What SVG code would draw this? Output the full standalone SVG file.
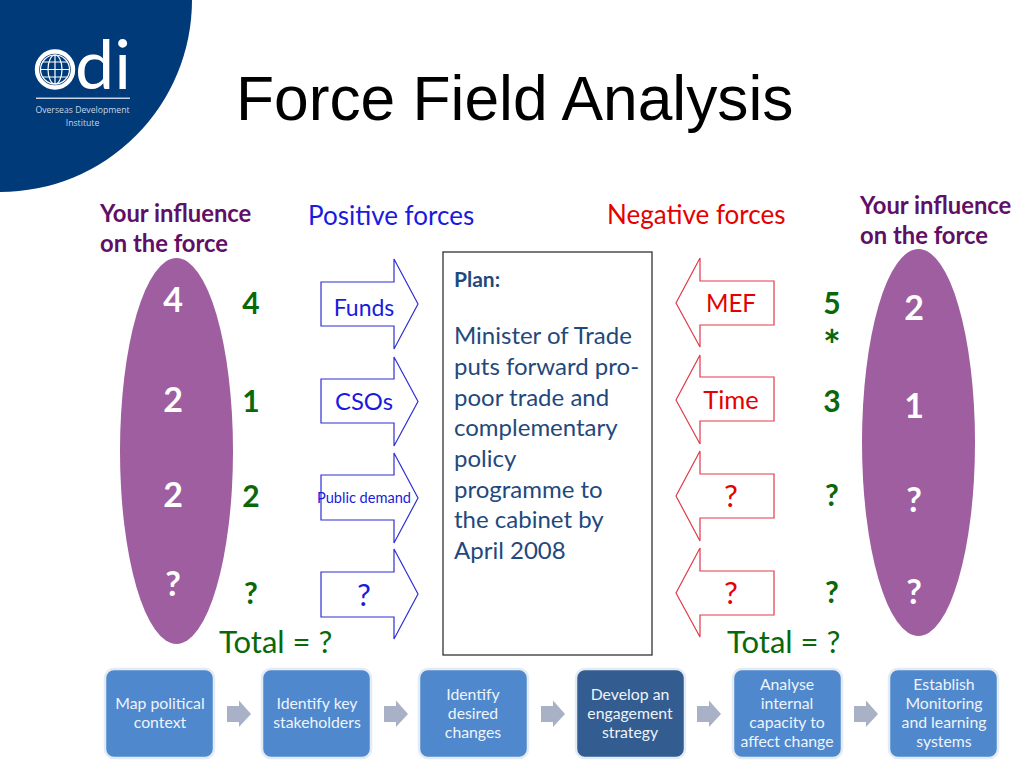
<svg xmlns="http://www.w3.org/2000/svg" width="1024" height="768" viewBox="0 0 1024 768">
<style>
text{font-family:"Lato","Carlito","Open Sans",sans-serif}
.title{font-family:"Liberation Sans",Arial,sans-serif;font-size:62.300px;fill:#000}
.inf{font-size:23.800px;font-weight:700;fill:#5f0f66}
.pos{fill:#1a1ae0}
.neg{fill:#e60000}
.hd{font-size:26px}
.bl{fill:#fff;stroke:#2f2fd4;stroke-width:1.200}
.rd{fill:#fff;stroke:#e23a4a;stroke-width:1.200}
.lb{font-size:23px;text-anchor:middle}
.sc{font-size:30px;font-weight:700;fill:#0a680a;text-anchor:middle}
.wh{font-size:34px;font-weight:700;fill:#fff;text-anchor:middle}
.el{fill:#9e5e9f}
.tot{font-size:31px;fill:#0a680a}
.pl{font-size:24px;fill:#1f497d}
.box{fill:#4f88cd;stroke:#e3ecf5;stroke-width:2.500}
.boxd{fill:#335c90;stroke:#e3ecf5;stroke-width:2.500}
.bt{font-size:15.800px;fill:#eef4fb;text-anchor:middle}
.ar{fill:#a9b1c6}
</style>
<g id="logo">
<path d="M0 0H192A192 192 0 0 1 0 192Z" fill="#003a78"/>
<circle cx="55" cy="69.500" r="18" fill="none" stroke="#fff" stroke-width="4.400"/>
<g fill="none" stroke="#fff" stroke-width="1.200">
<circle cx="55" cy="69.500" r="14.500"/>
<ellipse cx="55" cy="69.500" rx="7" ry="14.500"/>
<path d="M55 55V84M41 69.500H69M43 62H67M43 77H67"/>
</g>
<text x="75" y="88.500" font-size="68" font-weight="400" fill="#fff" style="font-family:'Lato','Open Sans',sans-serif" textLength="56" lengthAdjust="spacingAndGlyphs">di</text>
<rect x="36" y="97.500" width="94" height="1.500" fill="#c8d4e6"/>
<text x="82.500" y="113" font-size="8.700" fill="#c8d4e6" text-anchor="middle" style="font-family:'Open Sans',sans-serif">Overseas Development</text>
<text x="82.500" y="125.500" font-size="8.700" fill="#c8d4e6" text-anchor="middle" style="font-family:'Open Sans',sans-serif">Institute</text>
</g>
<text class="title" x="236" y="120">Force Field Analysis</text>
<g id="headers">
<text class="inf" x="100" y="222">Your influence</text>
<text class="inf" x="100" y="252">on the force</text>
<text class="inf" x="860" y="214">Your influence</text>
<text class="inf" x="860" y="244">on the force</text>
<text class="hd pos" x="308" y="225">Positive forces</text>
<text class="hd neg" x="607" y="224">Negative forces</text>
</g>
<g id="influence-left">
<ellipse class="el" cx="176.500" cy="451" rx="56.500" ry="193"/>
<text class="wh" x="173" y="312">4</text>
<text class="wh" x="173" y="412">2</text>
<text class="wh" x="173" y="507">2</text>
<text class="wh" x="173" y="596">?</text>
</g>
<g id="influence-right">
<ellipse class="el" cx="918.500" cy="442.500" rx="56.500" ry="193.500"/>
<text class="wh" x="914" y="320">2</text>
<text class="wh" x="914" y="418">1</text>
<text class="wh" x="914" y="512">?</text>
<text class="wh" x="914" y="604">?</text>
</g>
<g id="scores">
<text class="sc" x="251" y="314">4</text>
<text class="sc" x="251" y="412">1</text>
<text class="sc" x="251" y="507">2</text>
<text class="sc" x="251" y="604">?</text>
<text class="sc" x="832" y="314">5</text>
<text class="sc" x="832" y="361" style="font-size:42px">*</text>
<text class="sc" x="832" y="412">3</text>
<text class="sc" x="832" y="506">?</text>
<text class="sc" x="832" y="603">?</text>
</g>
<g id="pos-funds"><path class="bl" d="M321 282H394V259L418 304 394 349V326H321Z"/><text class="lb pos" x="364" y="316">Funds</text></g>
<g id="pos-csos"><path class="bl" d="M321 379H394V357L418 401.500 394 446V423H321Z"/><text class="lb pos" x="364" y="410" style="font-size:23.800px">CSOs</text></g>
<g id="pos-public"><path class="bl" d="M321 475H394V453L418 498 394 543V520H321Z"/><text class="pos" x="364" y="503" text-anchor="middle" style="font-size:14.600px">Public demand</text></g>
<g id="pos-unknown"><path class="bl" d="M321 572H394V549L418 594 394 639V617H321Z"/><text class="lb pos" x="364" y="606" style="font-size:31px">?</text></g>
<g id="plan">
<rect x="443" y="252" width="209" height="403" fill="#fff" stroke="#333" stroke-width="1.300"/>
<text x="454" y="287" font-size="21" font-weight="700" fill="#1f497d">Plan:</text>
<text class="pl" x="454" y="344">Minister of Trade</text>
<text class="pl" x="454" y="375">puts forward pro-</text>
<text class="pl" x="454" y="406">poor trade and</text>
<text class="pl" x="454" y="436">complementary</text>
<text class="pl" x="454" y="467">policy</text>
<text class="pl" x="454" y="498">programme to</text>
<text class="pl" x="454" y="528">the cabinet by</text>
<text class="pl" x="454" y="559">April 2008</text>
</g>
<g id="neg-mef"><path class="rd" d="M774 281H700V258L676 303 700 347V325H774Z"/><text class="lb neg" x="731" y="312" style="font-size:24.200px">MEF</text></g>
<g id="neg-time"><path class="rd" d="M774 377H700V355L676 400 700 444V421H774Z"/><text class="lb neg" x="731" y="409" style="font-size:25.500px">Time</text></g>
<g id="neg-unknown1"><path class="rd" d="M774 474H700V451L676 496 700 541V518H774Z"/><text class="lb neg" x="731" y="507" style="font-size:31px">?</text></g>
<g id="neg-unknown2"><path class="rd" d="M774 571H700V548L676 593 700 637V615H774Z"/><text class="lb neg" x="731" y="604" style="font-size:31px">?</text></g>
<text class="tot" x="219" y="653">Total = ?</text>
<text class="tot" x="727" y="653">Total = ?</text>
<g id="step1"><rect class="box" x="105" y="669" width="109" height="89" rx="9"/><text class="bt" x="160" y="709">Map political</text><text class="bt" x="160" y="728">context</text></g>
<g id="step2"><rect class="box" x="262" y="669" width="109" height="89" rx="9"/><text class="bt" x="317" y="709">Identify key</text><text class="bt" x="317" y="728">stakeholders</text></g>
<g id="step3"><rect class="box" x="419" y="669" width="109" height="89" rx="9"/><text class="bt" x="473" y="700">Identify</text><text class="bt" x="473" y="719">desired</text><text class="bt" x="473" y="738">changes</text></g>
<g id="step4"><rect class="boxd" x="576" y="669" width="109" height="89" rx="9"/><text class="bt" x="630" y="700">Develop an</text><text class="bt" x="630" y="719">engagement</text><text class="bt" x="630" y="738">strategy</text></g>
<g id="step5"><rect class="box" x="733" y="669" width="109" height="89" rx="9"/><text class="bt" x="787" y="690">Analyse</text><text class="bt" x="787" y="709">internal</text><text class="bt" x="787" y="728">capacity to</text><text class="bt" x="787" y="747">affect change</text></g>
<g id="step6"><rect class="box" x="889" y="669" width="109" height="89" rx="9"/><text class="bt" x="944" y="690">Establish</text><text class="bt" x="944" y="709">Monitoring</text><text class="bt" x="944" y="728">and learning</text><text class="bt" x="944" y="747">systems</text></g>
<g id="connectors">
<path class="ar" d="M227 706H239V700.500L251 714 239 727V722H227Z"/>
<path class="ar" d="M384 706H396V700.500L408 714 396 727V722H384Z"/>
<path class="ar" d="M541 706H553V700.500L565 714 553 727V722H541Z"/>
<path class="ar" d="M697 706H709V700.500L721 714 709 727V722H697Z"/>
<path class="ar" d="M854 706H866V700.500L878 714 866 727V722H854Z"/>
</g>
</svg>
